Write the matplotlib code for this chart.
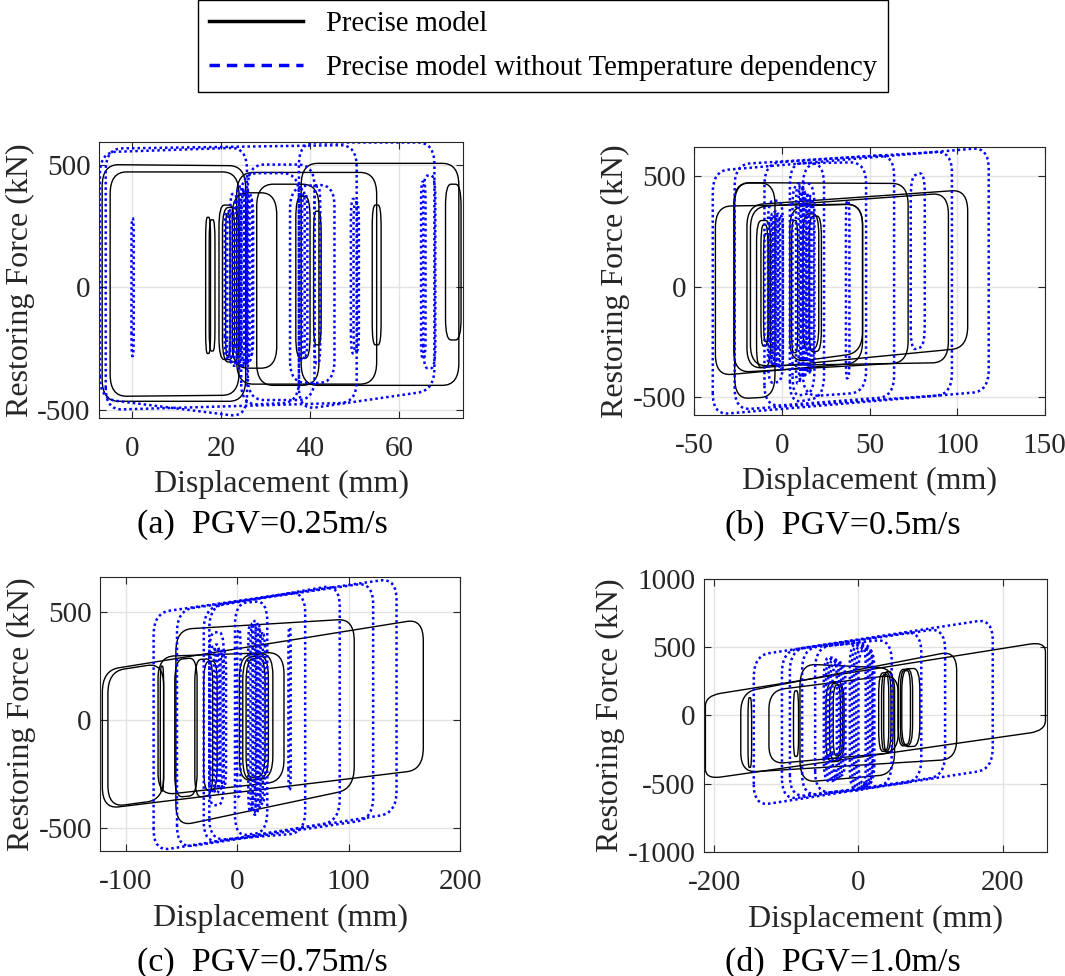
import matplotlib
matplotlib.use('Agg')
import matplotlib.pyplot as plt
from matplotlib.path import Path
from matplotlib.patches import PathPatch
from matplotlib.lines import Line2D

plt.rcParams['font.family'] = ['Liberation Serif', 'DejaVu Serif']
plt.rcParams['axes.unicode_minus'] = False

# each loop: (x_left, x_right, top_left, top_right, bottom_left, bottom_right)
black_a = [(-6.8, 25.5, 500, 495, -465, -465), (-5.0, 24.0, 470, 470, -445, -440),
           (23.5, 55.0, 468, 468, -395, -395), (38.0, 73.5, 505, 505, -400, -400),
           (70.5, 74.0, 420, 420, -215, -215), (54.0, 56.0, 335, 335, -235, -235),
           (40.8, 42.5, 310, 310, -235, -235), (36.8, 40.0, 370, 370, -290, -290),
           (28.0, 42.0, 420, 420, -400, -400), (22.5, 32.5, 385, 385, -330, -330),
           (16.5, 17.6, 285, 285, -270, -270), (17.3, 18.6, 275, 275, -260, -260),
           (19.5, 23.0, 335, 335, -295, -295), (20.3, 24.0, 325, 325, -305, -305),
           (21.0, 22.0, 300, 300, -280, -280)]
blue_a = [(-7.3, 25.8, 550, 570, -455, -530), (-6.0, 50.5, 565, 580, -500, -470),
          (37.5, 68.0, 590, 590, -500, -420), (26.0, 41.0, 500, 500, -460, -460),
          (24.5, 37.5, 465, 465, -480, -470), (35.5, 45.5, 410, 420, -390, -390),
          (-0.2, 0.3, 280, 280, -280, -280),
          (20.8, 22.0, 310, 310, -290, -290), (21.3, 22.8, 300, 300, -300, -300),
          (22.0, 23.6, 380, 380, -320, -320), (22.7, 24.4, 350, 350, -310, -310),
          (23.4, 25.2, 410, 410, -330, -330), (24.0, 25.8, 400, 400, -320, -320),
          (24.6, 26.4, 395, 395, -310, -310), (25.2, 27.0, 380, 380, -300, -300),
          (25.8, 27.2, 360, 360, -280, -280),
          (37.8, 38.8, 400, 400, -300, -300), (38.2, 39.4, 380, 380, -280, -280),
          (41.0, 42.3, 410, 410, -310, -310),
          (49.2, 50.6, 360, 360, -270, -270), (49.8, 51.0, 345, 345, -260, -260),
          (65.0, 66.0, 430, 430, -290, -290), (65.5, 68.2, 455, 455, -330, -330)]

black_b = [(-38.0, 46.0, 365, 375, -405, -345), (-27.0, -4.0, 470, 470, -510, -500),
           (-27.5, 72.0, 472, 468, -390, -345), (-20.0, 106.0, 370, 440, -375, -278),
           (-18.0, 95.0, 360, 425, -360, -345), (-14.5, -6.5, 300, 300, -370, -360),
           (-12.0, -8.0, 280, 280, -270, -270), (4.5, 46.0, 365, 375, -345, -300),
           (12.0, 21.0, 330, 330, -290, -280), (15.5, 22.5, 320, 320, -300, -290),
           (-10.5, -7.5, 240, 240, -250, -250), (5.5, 9.0, 300, 300, -300, -300)]
blue_b = [(-39.5, 118.0, 525, 632, -582, -475), (-27.0, 97.0, 555, 615, -560, -490),
          (-10.0, 64.0, 560, 600, -545, -500), (73.5, 81.5, 500, 520, -290, -270),
          (4.5, 24.0, 560, 560, -530, -500), (6.0, 18.5, 470, 470, -500, -480),
          (12.0, 48.0, 560, 565, -500, -480), (-8.0, 0.5, 390, 390, -440, -430),
          (36.5, 38.5, 390, 390, -420, -410),
          (-7.5, -5.5, 320, 320, -340, -340), (-6.5, -4.0, 330, 330, -350, -350),
          (-5.0, -2.5, 340, 340, -360, -360), (-3.5, -1.0, 330, 330, -370, -370),
          (-2.0, 0.5, 320, 320, -375, -375),
          (8.0, 10.5, 450, 450, -440, -440), (9.5, 12.0, 460, 460, -420, -420),
          (11.0, 13.5, 440, 440, -410, -410), (12.5, 15.0, 430, 430, -400, -400),
          (14.0, 16.5, 420, 420, -390, -390), (15.5, 18.0, 400, 400, -380, -380)]

black_c = [(-121, 167, 230, 470, -413, -231), (-116, -66, 225, 265, -405, -370),
           (-55, 105, 420, 470, -495, -320), (-71, 42, 295, 315, -350, -285),
           (-69, -66, 250, 250, -330, -330), (-56, -36, 280, 290, -360, -350),
           (-38, -22, 280, 285, -360, -350), (-30, -18, 270, 275, -330, -320),
           (2, 32, 300, 310, -285, -270), (5, 28, 290, 300, -280, -270),
           (8, 25, 280, 290, -270, -260)]
blue_c = [(-75, 143, 497, 659, -610, -432), (-54, 122, 510, 640, -595, -460),
          (-30, 92, 520, 630, -575, -470), (-25, 61, 530, 600, -560, -525),
          (-2, 27, 540, 555, -540, -520), (-25, -12, 405, 410, -400, -390),
          (46, 48, 430, 430, -330, -320), (0, 3, 420, 420, -360, -350),
          (-24, -19, 340, 340, -330, -330), (-21, -16, 350, 350, -340, -340),
          (-18, -13, 330, 330, -320, -320), (-15, -10, 320, 320, -310, -310),
          (10, 14, 440, 440, -420, -420), (12, 17, 450, 450, -430, -430),
          (14, 19, 460, 460, -440, -440), (16, 21, 440, 440, -420, -420),
          (18, 23, 420, 420, -400, -400), (20, 25, 400, 400, -380, -380)]

black_d = [(-212, 259, 144, 540, -467, -112), (-163, 136, 169, 474, -418, -320),
           (-153, -148, 130, 130, -380, -380), (-124, 55, 181, 300, -357, -270),
           (-90, -83, 180, 180, -300, -300), (-81, 50, 377, 345, -491, -430),
           (-45, -20, 242, 250, -345, -330), (-40, -25, 230, 235, -320, -310),
           (-35, -22, 220, 225, -300, -290), (28, 45, 310, 315, -265, -260),
           (32, 42, 300, 300, -255, -250), (35, 48, 320, 320, -270, -265),
           (55, 75, 335, 340, -225, -220), (58, 72, 325, 330, -215, -210),
           (60, 85, 340, 345, -230, -225)]
blue_d = [(-145, 186, 438, 707, -663, -394), (-106, 120, 470, 640, -620, -443),
          (-95, 87, 480, 620, -600, -479), (-78, 46, 490, 560, -590, -510),
          (-60, 20, 500, 540, -570, -540),
          (-48, -30, 420, 425, -480, -480), (-45, -27, 410, 415, -470, -470),
          (-42, -24, 400, 405, -460, -460), (-39, -21, 390, 395, -450, -450),
          (-36, -18, 380, 385, -440, -440),
          (-12, 10, 520, 525, -540, -540), (-9, 13, 510, 515, -530, -530),
          (-6, 16, 500, 505, -520, -520), (-3, 19, 490, 495, -510, -510),
          (0, 22, 480, 485, -500, -500)]

xlims = [(-7.5, 74.5), (-50, 150), (-123, 200), (-214, 261)]
ylims = [(-532, 590), (-582, 632), (-609, 665), (-1000, 1000)]
xticks = [[0, 20, 40, 60], [-50, 0, 50, 100, 150], [-100, 0, 100, 200], [-200, 0, 200]]
yticks = [[-500, 0, 500], [-500, 0, 500], [-500, 0, 500], [-1000, -500, 0, 500, 1000]]
captions = ['(a)  PGV=0.25m/s', '(b)  PGV=0.5m/s', '(c)  PGV=0.75m/s', '(d)  PGV=1.0m/s']
black_all = [black_a, black_b, black_c, black_d]
blue_all = [blue_a, blue_b, blue_c, blue_d]


def loop_patch(lp, xr_span, yr_span, **kw):
    xl, xr, tl, tr, bl, br = lp
    w = xr - xl
    h = min(tl, tr) - max(bl, br)
    rx = min(0.35 * w, 0.045 * xr_span)
    ry = min(0.3 * h, 0.08 * yr_span)
    st = (tr - tl) / w
    sb = (br - bl) / w
    verts = [(xl, bl + ry), (xl, tl - ry), (xl, tl), (xl + rx, tl + st * rx),
             (xr - rx, tr - st * rx), (xr, tr), (xr, tr - ry),
             (xr, br + ry), (xr, br), (xr - rx, br - sb * rx),
             (xl + rx, bl + sb * rx), (xl, bl), (xl, bl + ry), (xl, bl + ry)]
    codes = [Path.MOVETO, Path.LINETO, Path.CURVE3, Path.CURVE3,
             Path.LINETO, Path.CURVE3, Path.CURVE3,
             Path.LINETO, Path.CURVE3, Path.CURVE3,
             Path.LINETO, Path.CURVE3, Path.CURVE3, Path.CLOSEPOLY]
    return PathPatch(Path(verts, codes), fill=False, **kw)


fig = plt.figure(figsize=(10.65, 9.76), dpi=100)
positions = [[0.093, 0.572, 0.342, 0.282], [0.652, 0.575, 0.329, 0.274],
             [0.094, 0.128, 0.338, 0.281], [0.661, 0.127, 0.322, 0.280]]
cap_xy = [(0.246, 0.462), (0.791, 0.462), (0.246, 0.014), (0.791, 0.014)]

for i in range(4):
    ax = fig.add_axes(positions[i])
    xs = xlims[i][1] - xlims[i][0]
    ys = ylims[i][1] - ylims[i][0]
    for lp in black_all[i]:
        ax.add_patch(loop_patch(lp, xs, ys, edgecolor='black', lw=1.0))
    for lp in blue_all[i]:
        ax.add_patch(loop_patch(lp, xs, ys, edgecolor='#0000ff', lw=1.8, linestyle=(0, (1, 1.2))))
    ax.set_xlim(xlims[i])
    ax.set_ylim(ylims[i])
    ax.set_xticks(xticks[i])
    ax.set_yticks(yticks[i])
    ax.grid(True, color='#e3e3e3', lw=1)
    ax.set_axisbelow(True)
    ax.tick_params(direction='in', top=True, right=True, length=5, labelsize=21, colors='#262626')
    ax.tick_params(axis='x', pad=13)
    ax.tick_params(axis='y', pad=6)
    for s in ax.spines.values():
        s.set_color('#262626')
    ax.set_xlabel('Displacement (mm)', fontsize=23, color='#262626', labelpad=6)
    ax.set_ylabel('Restoring Force (kN)', fontsize=23, color='#262626', labelpad=2)
    fig.text(cap_xy[i][0], cap_xy[i][1], captions[i], fontsize=24.5, ha='center', va='center')

handles = [Line2D([], [], color='black', lw=2.5),
           Line2D([], [], color='#0000ff', lw=2.5, linestyle=(0, (3, 2)))]
leg = fig.legend(handles, ['Precise model', 'Precise model without Temperature dependency'],
                 loc='upper center', bbox_to_anchor=(0.51, 1.0), fontsize=20.6,
                 fancybox=False, edgecolor='black', framealpha=1, handlelength=3.3,
                 borderpad=0.38, labelspacing=0.62, borderaxespad=0.0)
leg.get_frame().set_linewidth(1.0)

fig.savefig('out.png', dpi=100)
